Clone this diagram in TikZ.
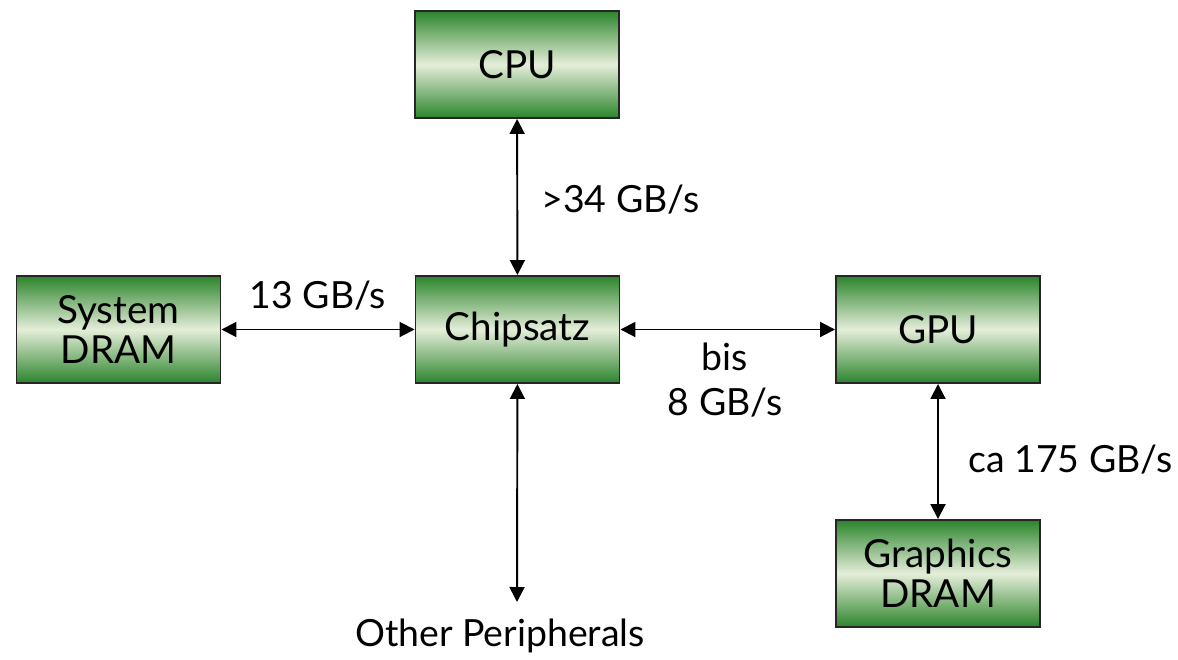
\documentclass[tikz,border=0pt]{standalone}
\usepackage{fontspec}
\setmainfont{Lato}
\usepackage{tikz}
\usetikzlibrary{arrows.meta, positioning}
\definecolor{boxdark}{HTML}{2C842C}
\definecolor{boxlight}{HTML}{E4EED9}

\begin{document}
\begin{tikzpicture}[
  unit/.style={
    rectangle,
    draw=black!85,
    line width=1.1pt,
    top color=boxdark,
    bottom color=boxdark,
    middle color=boxlight,
    minimum width=4.08cm,
    minimum height=2.14cm,
    align=center,
    font=\fontsize{22}{23}\selectfont
  },
  rate/.style={
    font=\fontsize{21.3}{26}\selectfont,
    align=center,
    inner sep=0pt
  },
  link/.style={
    line width=1.1pt,
    {Triangle[length=0.3cm,width=0.3cm]}-{Triangle[length=0.3cm,width=0.3cm]}
  }
]
  \useasboundingbox (0,0) rectangle (23.56,13.18);

  \node[unit] (cpu) at (10.34,11.89) {CPU};
  \node[unit] (sysdram) at (2.37,6.59) {System\\DRAM};
  \node[unit] (chipsatz) at (10.35,6.59) {Chipsatz};
  \node[unit] (gpu) at (18.76,6.59) {GPU};
  \node[unit] (gfxdram) at (18.76,1.71) {Graphics\\DRAM};
  \coordinate (periph) at (10.34,1.14);

  \draw[link] (cpu) -- (chipsatz);
  \draw[link] (sysdram) -- (chipsatz);
  \draw[link] (chipsatz) -- (gpu);
  \draw[link] (gpu) -- (gfxdram);
  \draw[link] (chipsatz) -- (periph);

  \node[rate, anchor=west] (cpurate) at (10.82,9.18) {>34 GB/s};
  \node[rate] (dramrate) at (6.36,7.26) {13 GB/s};
  \node[rate] (gpurate) at (14.5,5.58) {bis\\8 GB/s};
  \node[rate, anchor=west] (gfxrate) at (19.36,3.98) {ca 175 GB/s};
  \node[rate] (periphlabel) at (10.0,0.46) {Other Peripherals};
\end{tikzpicture}
\end{document}
